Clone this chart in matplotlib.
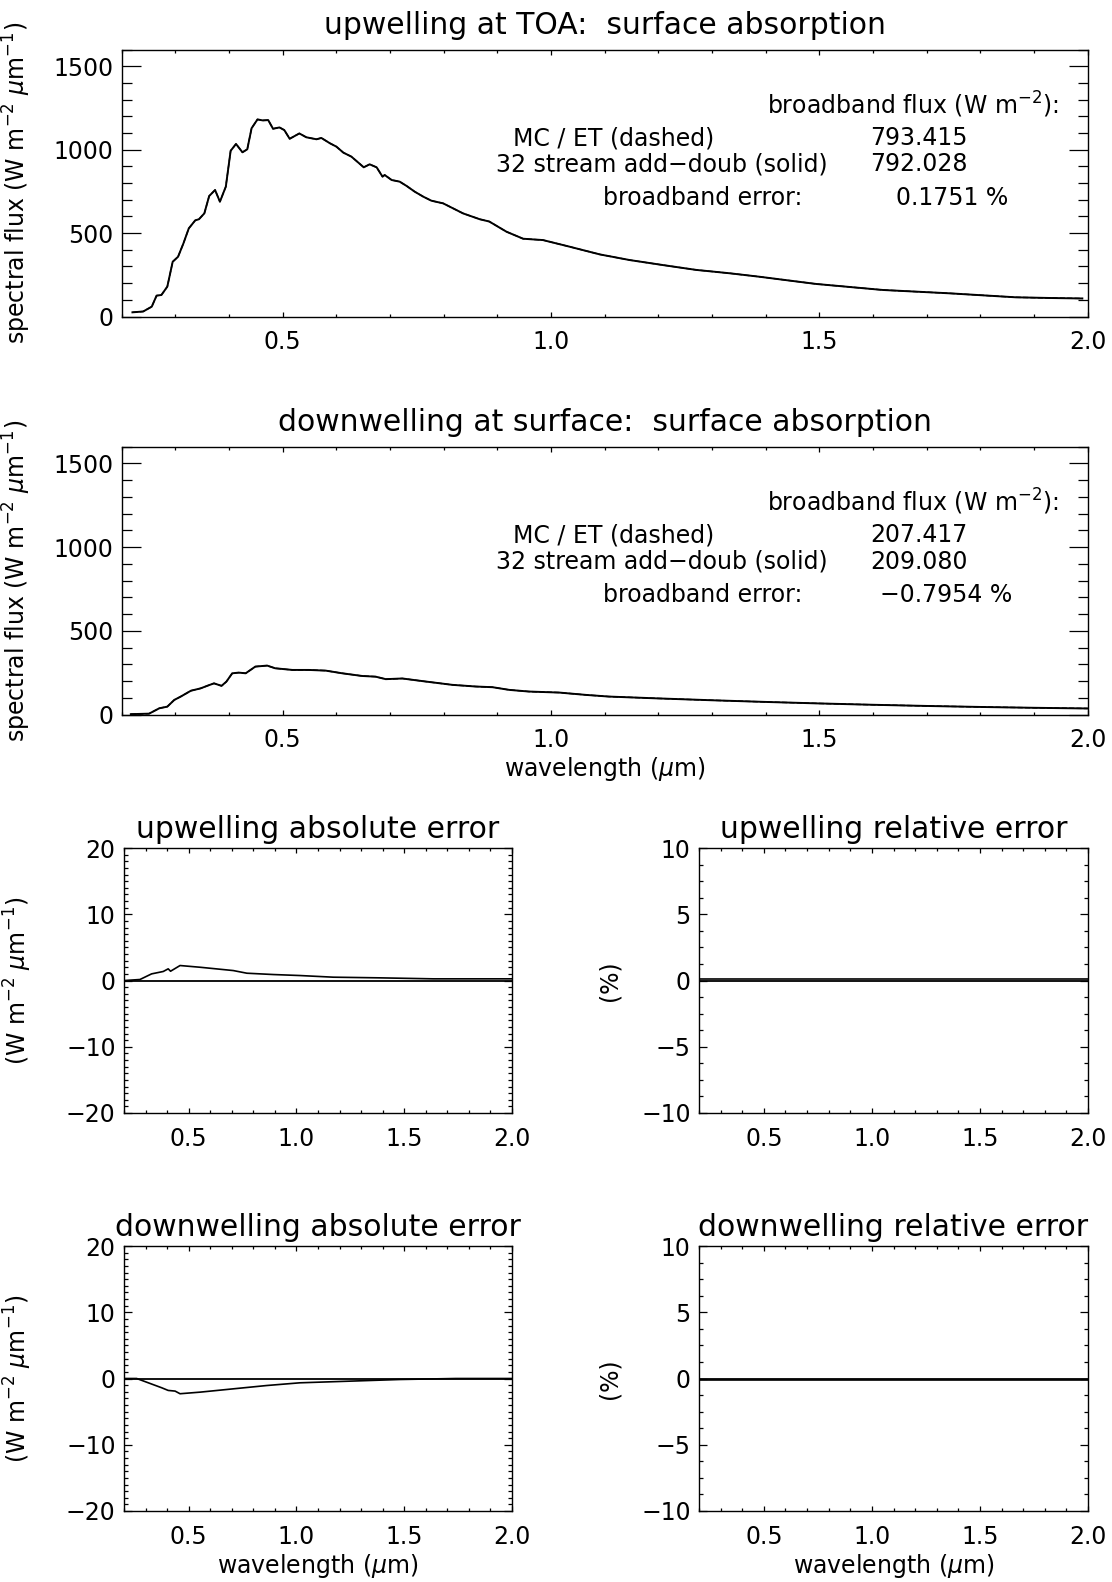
import matplotlib
matplotlib.use('Agg')
import matplotlib.pyplot as plt
from matplotlib.ticker import MultipleLocator, FormatStrFormatter

plt.rcParams['font.family'] = ['DejaVu Sans']
plt.rcParams['mathtext.fontset'] = 'dejavusans'

# upwelling at TOA, spectral flux (W m-2 um-1)
up_wl = [0.22, 0.24, 0.256, 0.265, 0.274, 0.285, 0.295, 0.305, 0.315, 0.325,
         0.337, 0.344, 0.354, 0.363, 0.374, 0.383, 0.394, 0.403, 0.413, 0.425,
         0.434, 0.442, 0.453, 0.463, 0.473, 0.482, 0.494, 0.503, 0.513, 0.531,
         0.544, 0.563, 0.572, 0.588, 0.600, 0.613, 0.628, 0.641, 0.651, 0.662,
         0.675, 0.686, 0.690, 0.703, 0.718, 0.731, 0.746, 0.762, 0.777, 0.799,
         0.836, 0.867, 0.885, 0.917, 0.948, 0.985, 1.035, 1.091, 1.147, 1.209,
         1.271, 1.333, 1.389, 1.494, 1.618, 1.742, 1.866, 1.928, 1.99]
up_flux = [25, 30, 59, 125, 129, 179, 328, 358, 438, 528,
           576, 583, 618, 722, 758, 688, 778, 993, 1034, 984,
           1002, 1128, 1181, 1175, 1177, 1125, 1133, 1117, 1065, 1097,
           1074, 1062, 1070, 1038, 1018, 982, 958, 922, 894, 912,
           894, 838, 848, 818, 808, 782, 748, 718, 694, 678,
           618, 583, 569, 508, 466, 458, 418, 372, 338, 308,
           279, 259, 238, 195, 159, 139, 115, 111, 108]

# downwelling at surface
dn_wl = [0.217, 0.251, 0.270, 0.285, 0.298, 0.310, 0.329, 0.347, 0.360, 0.372,
         0.386, 0.395, 0.406, 0.418, 0.431, 0.449, 0.471, 0.486, 0.518, 0.549,
         0.580, 0.611, 0.648, 0.673, 0.692, 0.723, 0.766, 0.816, 0.860, 0.891,
         0.922, 0.959, 1.015, 1.065, 1.108, 1.2, 1.3, 1.4, 1.5, 1.6,
         1.7, 1.8, 1.9, 2.0]
dn_flux = [2, 5, 37, 47, 87, 107, 142, 156, 172, 186,
           171, 196, 246, 250, 246, 286, 292, 276, 266, 266,
           262, 246, 230, 226, 211, 215, 197, 177, 167, 163,
           147, 137, 131, 117, 107, 96, 85, 75, 66, 58,
           51, 45, 40, 36]

# absolute errors
up_err_wl = [0.205, 0.274, 0.328, 0.382, 0.405, 0.416, 0.46, 0.553, 0.707, 0.77,
             0.893, 1.016, 1.171, 1.387, 1.635, 2.0]
up_err = [0.0, 0.15, 1.0, 1.36, 1.76, 1.4, 2.26, 2.0, 1.5, 1.1,
          0.9, 0.75, 0.5, 0.4, 0.25, 0.25]
dn_err_wl = [0.205, 0.259, 0.321, 0.375, 0.405, 0.437, 0.46, 0.553, 0.707, 0.862,
             1.016, 1.248, 1.48, 1.74, 2.0]
dn_err = [0.0, 0.0, -0.75, -1.4, -1.8, -1.9, -2.3, -2.06, -1.56, -1.06,
          -0.65, -0.4, -0.15, 0.0, 0.0]

# relative errors (%)
rel_wl = [0.2, 2.0]
up_rel = [0.1, 0.1]
dn_rel = [-0.15, -0.15]

up_vals = ['793.415', '792.028', '0.1751 %']
dn_vals = ['207.417', '209.080', '\u22120.7954 %']

FS = 17
TFS = 21.5
AFS = 17.0
W, H = 1112, 1582
fig = plt.figure(figsize=(W / 100, H / 100), dpi=100)


def box(l, t, r, b):
    return [l / W, 1 - b / H, (r - l) / W, (b - t) / H]


def style(ax, xlen, ylen, ymaj, ymin):
    ax.set_xlim(0.2, 2.0)
    ax.xaxis.set_major_locator(MultipleLocator(0.5))
    ax.xaxis.set_minor_locator(MultipleLocator(0.1))
    ax.xaxis.set_major_formatter(FormatStrFormatter('%.1f'))
    ax.yaxis.set_major_locator(MultipleLocator(ymaj))
    ax.yaxis.set_minor_locator(MultipleLocator(ymin))
    ax.tick_params(axis='both', which='both', direction='in', top=True, right=True,
                   labelsize=FS, width=0.9, color='black')
    ax.tick_params(axis='x', which='major', length=xlen, pad=10)
    ax.tick_params(axis='x', which='minor', length=xlen / 2)
    ax.tick_params(axis='y', which='major', length=ylen, pad=6)
    ax.tick_params(axis='y', which='minor', length=ylen / 2)
    for s in ax.spines.values():
        s.set_linewidth(1.0)


ylab_flux = 'spectral flux (W m$^{-2}$ $\\mu$m$^{-1}$)'
ylab_abs = '(W m$^{-2}$ $\\mu$m$^{-1}$)'
xlab = 'wavelength ($\\mu$m)'

big = [
    (box(121.7, 49.5, 1087.7, 316.5), up_wl, up_flux, 'upwelling at TOA:  surface absorption', up_vals, False),
    (box(121.7, 446.5, 1087.7, 714.5), dn_wl, dn_flux, 'downwelling at surface:  surface absorption', dn_vals, True),
]
for pos, wl, fl, title, vals, with_xlab in big:
    ax = fig.add_axes(pos)
    ax.plot(wl, fl, color='black', lw=1.4, ls='-')
    ax.plot(wl, fl, color='black', lw=1.0, ls='--')
    ax.set_ylim(0, 1600)
    style(ax, 3.8, 13.9, 500, 100)
    ax.set_title(title, fontsize=TFS, pad=11)
    ax.set_ylabel(ylab_flux, fontsize=FS)
    ax.yaxis.set_label_coords(-0.092, 0.5)
    if with_xlab:
        ax.set_xlabel(xlab, fontsize=FS)
        ax.xaxis.set_label_coords(0.5, -0.15)
    tk = dict(transform=ax.transAxes, fontsize=AFS, va='center')
    ax.text(0.970, 0.794, 'broadband flux (W m$^{-2}$):', ha='right', **tk)
    ax.text(0.405, 0.668, 'MC / ET (dashed)', ha='left', **tk)
    ax.text(0.775, 0.668, vals[0], ha='left', **tk)
    ax.text(0.387, 0.570, '32 stream add\u2212doub (solid)', ha='left', **tk)
    ax.text(0.775, 0.570, vals[1], ha='left', **tk)
    ax.text(0.498, 0.445, 'broadband error:', ha='left', **tk)
    ax.text(0.785 if vals[2].startswith('\u2212') else 0.8015, 0.445, vals[2], ha='left', **tk)

small = [
    (box(124, 848, 512, 1113), up_err_wl, up_err, 'upwelling absolute error', (-20, 20), 10, 1, ylab_abs, False),
    (box(699, 848, 1088, 1113), rel_wl, up_rel, 'upwelling relative error', (-10, 10), 5, 1.25, '(%)', False),
    (box(124, 1246, 512, 1511), dn_err_wl, dn_err, 'downwelling absolute error', (-20, 20), 10, 1, ylab_abs, True),
    (box(699, 1246, 1088, 1511), rel_wl, dn_rel, 'downwelling relative error', (-10, 10), 5, 1.25, '(%)', True),
]
for pos, wl, err, title, ylim, ymaj, ymin, ylab, with_xlab in small:
    ax = fig.add_axes(pos)
    ax.axhline(0, color='black', lw=1.3)
    ax.plot(wl, err, color='black', lw=1.2)
    ax.set_ylim(*ylim)
    style(ax, 3.8, 5.6, ymaj, ymin)
    ax.set_title(title, fontsize=TFS, pad=7.5)
    ax.set_ylabel(ylab, fontsize=FS)
    if ylab == '(%)':
        ax.yaxis.set_label_coords(-0.198, 0.5)
    else:
        ax.yaxis.set_label_coords(-0.232, 0.5)
    if with_xlab:
        ax.set_xlabel(xlab, fontsize=FS)
        ax.xaxis.set_label_coords(0.5, -0.155)

fig.savefig('out.png', dpi=100)
